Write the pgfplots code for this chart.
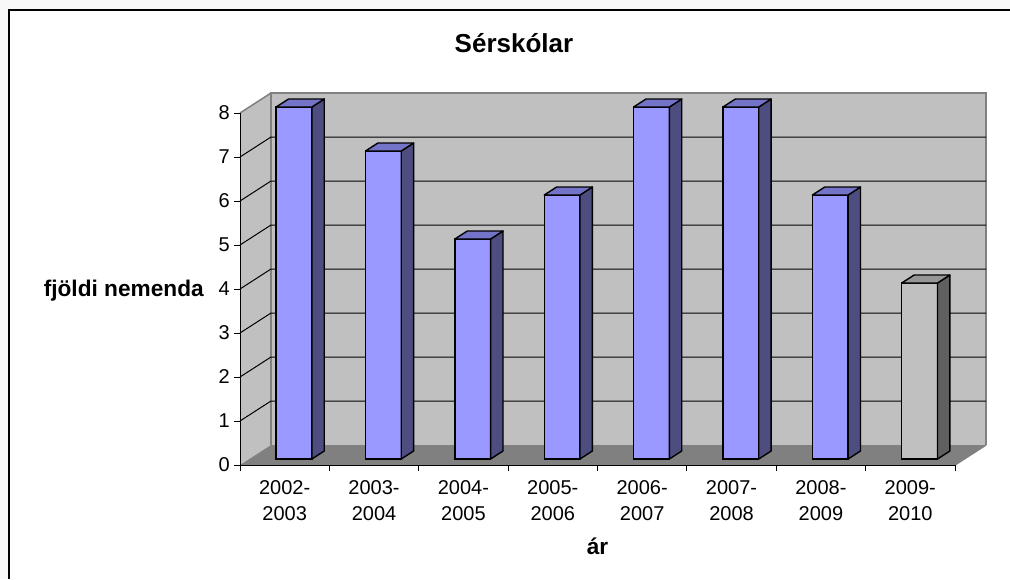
\documentclass[border=0pt]{standalone}
\usepackage{pgfplots}
\pgfplotsset{compat=1.18}
\usepackage{pgfplotstable}
\usepackage{fontspec}
\setmainfont{Liberation Sans}
\newlength\px \setlength\px{0.75pt}
\definecolor{pagebg}{HTML}{F8F8F8}
\definecolor{wallgray}{HTML}{C0C0C0}
\definecolor{floorgray}{HTML}{808080}
\definecolor{edgegray}{HTML}{808080}
\definecolor{barblue}{HTML}{9999FF}
\definecolor{bluetop}{HTML}{7373C8}
\definecolor{blueside}{HTML}{4D4D80}
\definecolor{graybar}{HTML}{C0C0C0}
\definecolor{graytop}{HTML}{969696}
\definecolor{grayside}{HTML}{606060}

\pgfplotstableread{
x v c
0.5 8 0
1.5 7 0
2.5 5 0
3.5 6 0
4.5 8 0
5.5 8 0
6.5 6 0
7.5 4 1
}\datatable

\begin{document}
\begin{tikzpicture}
\fill[pagebg] (0,0) rectangle (1010\px,579\px);
\fill[white] (8.5\px,0) rectangle (1010\px,568.5\px);
\draw[black,line width=2\px] (8.5\px,0) -- (8.5\px,568.5\px) -- (1010\px,568.5\px);
\node[font=\bfseries\fontsize{19.5}{24}\selectfont, anchor=base] at (514\px,526\px) {Sérskólar};

\begin{axis}[
  at={(240\px,114\px)}, anchor=origin,
  scale only axis, width=715\px, height=352\px,
  xmin=0, xmax=8, ymin=0, ymax=8,
  axis x line*=bottom, axis y line*=left,
  axis line style={black, line width=1\px, -},
  xtick={0.5,1.5,...,7.5},
  xticklabels={{2002-\\2003},{2003-\\2004},{2004-\\2005},{2005-\\2006},{2006-\\2007},{2007-\\2008},{2008-\\2009},{2009-\\2010}},
  minor xtick={0,...,8},
  ytick={0,...,8},
  tick align=outside,
  major tick length=6\px, minor tick length=6\px,
  major x tick style={draw=none},
  tick style={black, line width=1\px},
  clip=false, axis on top,
  ticklabel style={font=\fontsize{15}{19.5}\selectfont},
  xticklabel style={align=center, anchor=north, inner sep=0pt, yshift=-9.5\px},
  yticklabel style={anchor=east, inner sep=0pt, xshift=-4\px},
  /pgf/number format/assume math mode=true,
  xlabel={ár}, ylabel={fjöldi nemenda},
  every axis x label/.style={at={(axis description cs:0.5,0)}, anchor=base, inner sep=0pt, yshift=-89.5\px, font=\bfseries\fontsize{17}{20}\selectfont},
  every axis y label/.style={at={(axis description cs:0,0)}, anchor=base east, inner sep=0pt, xshift=-36\px, yshift=168.5\px, font=\bfseries\fontsize{17}{20}\selectfont},
]
% walls
\fill[wallgray] ([shift={(31\px,20\px)}]axis cs:0,0) rectangle ([shift={(31\px,20\px)}]axis cs:8,8);
\fill[wallgray] (axis cs:0,0) -- ([shift={(31\px,20\px)}]axis cs:0,0) -- ([shift={(31\px,20\px)}]axis cs:0,8) -- (axis cs:0,8) -- cycle;
\fill[floorgray] (axis cs:0,0) -- (axis cs:8,0) -- ([shift={(31\px,20\px)}]axis cs:8,0) -- ([shift={(31\px,20\px)}]axis cs:0,0) -- cycle;
\draw[edgegray, line width=2\px] ([shift={(31\px,20\px)}]axis cs:0,0) -- ([shift={(31\px,20\px)}]axis cs:0,8) -- ([shift={(31\px,20\px)}]axis cs:8,8) -- ([shift={(31\px,20\px)}]axis cs:8,0);
\draw[edgegray, line width=1.5\px] (axis cs:0,8) -- ([shift={(31\px,20\px)}]axis cs:0,8);
\draw[edgegray, line width=1.5\px] (axis cs:8,0) -- ([shift={(31\px,20\px)}]axis cs:8,0);
\pgfplotsinvokeforeach{1,...,7}{
  \draw[black, line width=1\px] (axis cs:0,#1) -- ([shift={(31\px,20\px)}]axis cs:0,#1) -- ([shift={(31\px,20\px)}]axis cs:8,#1);
}
\end{axis}

\begin{axis}[
  at={(249.3\px,120\px)}, anchor=origin,
  scale only axis, width=715\px, height=352\px,
  xmin=0, xmax=8, ymin=0, ymax=8,
  hide axis, clip=false,
]
\addplot[ybar, bar width=0.4, bar shift=0pt, fill=barblue, draw=black, line width=1.4\px, restrict x to domain=0:7] table[x=x,y=v]{\datatable};
\addplot[ybar, bar width=0.4, bar shift=0pt, fill=graybar, draw=black, line width=1.4\px, restrict x to domain=7:8] table[x=x,y=v]{\datatable};
\pgfplotsinvokeforeach{0,...,7}{
  \pgfplotstablegetelem{#1}{v}\of\datatable
  \let\val\pgfplotsretval
  \pgfplotstablegetelem{#1}{c}\of\datatable
  \ifnum\pgfplotsretval=1 \def\tc{graytop}\def\sc{grayside}\else\def\tc{bluetop}\def\sc{blueside}\fi
  \edef\cmd{%
    \noexpand\filldraw[fill=\sc, draw=black, line width=1.4\noexpand\px, line join=round]
      (axis cs:#1.7,0) -- ([shift={(12.4\noexpand\px,8\noexpand\px)}]axis cs:#1.7,0)
      -- ([shift={(12.4\noexpand\px,8\noexpand\px)}]axis cs:#1.7,\val) -- (axis cs:#1.7,\val) -- cycle;
    \noexpand\filldraw[fill=\tc, draw=black, line width=1.4\noexpand\px, line join=round]
      (axis cs:#1.3,\val) -- (axis cs:#1.7,\val)
      -- ([shift={(12.4\noexpand\px,8\noexpand\px)}]axis cs:#1.7,\val)
      -- ([shift={(12.4\noexpand\px,8\noexpand\px)}]axis cs:#1.3,\val) -- cycle;
  }
  \cmd
}
\end{axis}
\pgfresetboundingbox
\path[use as bounding box] (0,0) rectangle (1010\px,579\px);
\end{tikzpicture}
\end{document}
